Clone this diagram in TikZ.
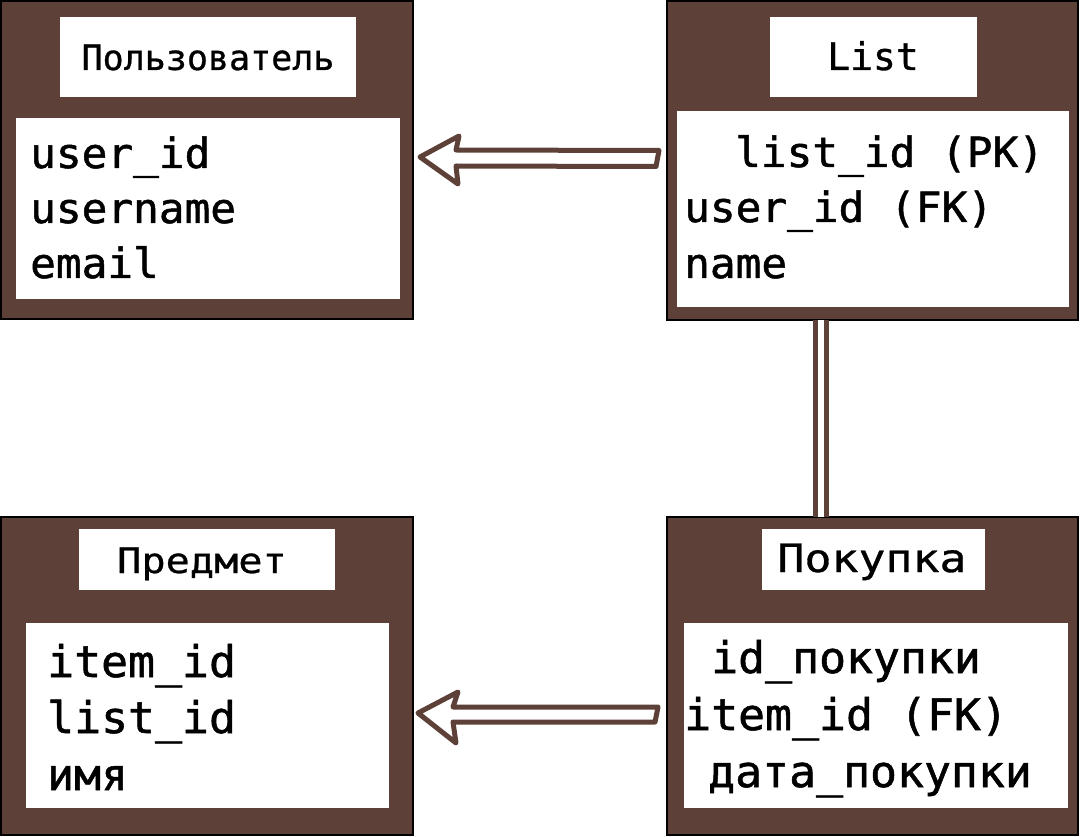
\documentclass[tikz,border=0pt]{standalone}
\usepackage{fontspec}
\usetikzlibrary{calc}
\newfontfamily\mono[FakeStretch=1.03,FakeBold=1.2]{DejaVu Sans Mono}
\newfontfamily\monoT[FakeBold=0.8]{DejaVu Sans Mono}
\newfontfamily\monoW[FakeStretch=1.15,FakeBold=0.8]{DejaVu Sans Mono}
\definecolor{brn}{HTML}{5D4037}
\begin{document}
\begin{tikzpicture}[x=1pt,y=-1pt,
 tbl/.style={draw=black, line width=2.5pt, fill=brn, inner sep=0pt, outer sep=0pt},
 wbox/.style={fill=white, inner sep=0pt, outer sep=0pt},
 fld/.style={anchor=base west, inner sep=0pt, font=\mono\fontsize{41.5}{41.5}\selectfont},
 fldb/.style={anchor=base west, inner sep=0pt, font=\mono\fontsize{43.5}{43.5}\selectfont},
 ttl/.style={anchor=base, inner sep=0pt},
 harrow/.style={draw=brn, line width=5pt, line join=round, fill=white},
 dbl/.style={draw=brn, line width=5pt, double=white, double distance=6pt}]
\useasboundingbox[fill=white] (0,0) rectangle (1080,837);
% tables
\node[tbl, minimum width=412pt, minimum height=318pt] (user) at (207,160) {};
\node[tbl, minimum width=411pt, minimum height=319pt] (list) at (872.5,160.5) {};
\node[tbl, minimum width=412pt, minimum height=318pt] (item) at (207,676) {};
\node[tbl, minimum width=411pt, minimum height=318pt] (buy) at (872.5,676) {};
% white panels
\node[wbox, minimum width=296pt, minimum height=80pt] (usert) at (208,57) {};
\node[wbox, minimum width=384pt, minimum height=181pt] (userb) at (208,208.5) {};
\node[wbox, minimum width=207pt, minimum height=80pt] (listt) at (873.5,57) {};
\node[wbox, minimum width=392pt, minimum height=196pt] (listb) at (873,209) {};
\node[wbox, minimum width=256pt, minimum height=61pt] (itemt) at (207,559.5) {};
\node[wbox, minimum width=363pt, minimum height=185pt] (itemb) at (207.5,715.5) {};
\node[wbox, minimum width=223pt, minimum height=61pt] (buyt) at (873.5,559.5) {};
\node[wbox, minimum width=384pt, minimum height=185pt] (buyb) at (876,715.5) {};
% titles
\node[ttl, font=\monoT\fontsize{35}{35}\selectfont] (usertx) at (208,70) {Пользователь};
\node[ttl, font=\monoT\fontsize{38}{38}\selectfont] (listtx) at (873,70) {List};
\node[ttl, font=\monoW\fontsize{35}{35}\selectfont] (itemtx) at (202,573) {Предмет};
\node[ttl, font=\monoW\fontsize{39}{39}\selectfont] (buytx) at (872,572) {Покупка};
% fields
\node[fld] (u1) at (30,168) {user\_id};
\node[fld] (u2) at (30,223) {username};
\node[fld] (u3) at (30,278) {email};
\node[fld] (l1) at (735,167) {list\_id (PK)};
\node[fld] (l2) at (684,222) {user\_id (FK)};
\node[fld] (l3) at (684,278) {name};
\node[fldb] (i1) at (47,677) {item\_id};
\node[fldb] (i2) at (47,733) {list\_id};
\node[fldb] (i3) at (47,790) {имя};
\node[fldb] (p1) at (711,673) {id\_покупки};
\node[fldb] (p2) at (684,730) {item\_id (FK)};
\node[fldb] (p3) at (708,787) {дата\_покупки};
% connectors
\coordinate (a1tip) at ($(user.east)+(7,-3)$);
\coordinate (a1tail) at ($(list.west)+(-8,-10)$);
\path[harrow] (a1tip) -- ++(39,-21) -- ++(-3,14) -- (a1tail) -- ++(-3,16) -- ($(a1tip)+(36,9)$) -- ($(a1tip)+(38,27)$) -- cycle;
\coordinate (a2tip) at ($(item.east)+(5,37)$);
\coordinate (a2tail) at ($(buy.west)+(-9,31)$);
\path[harrow] (a2tip) -- ++(40,-21) -- ++(-5,15) -- (a2tail) -- ++(-3,15) -- ($(a2tip)+(35,9)$) -- ($(a2tip)+(38,30)$) -- cycle;
\draw[dbl] ($(list.south)+(-52,0)$) -- ($(buy.north)+(-52,0)$);
\end{tikzpicture}
\end{document}
